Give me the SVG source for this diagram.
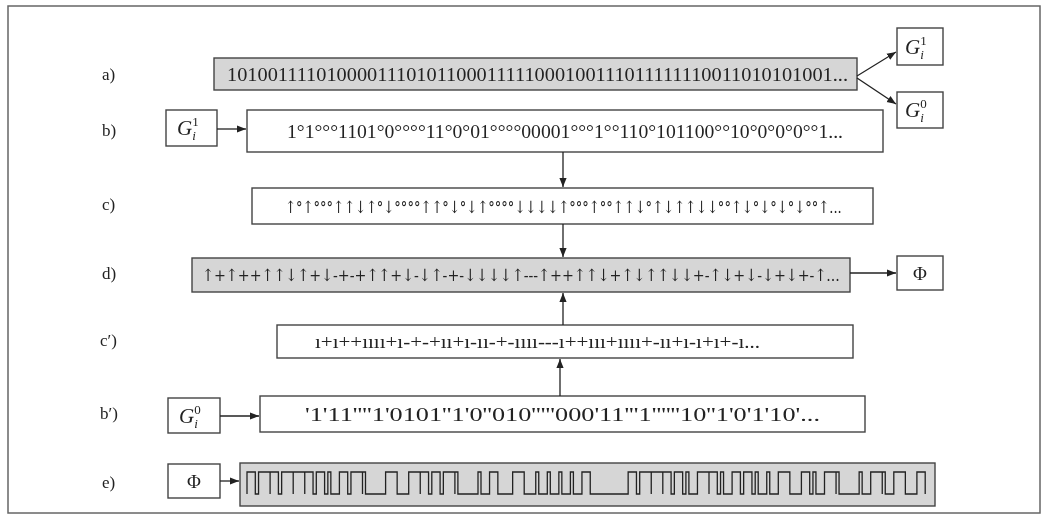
<svg xmlns="http://www.w3.org/2000/svg" width="1050" height="530" viewBox="0 0 1050 530">
<defs>
<marker id="ah" viewBox="0 0 10 10" refX="10" refY="5" markerWidth="9" markerHeight="9" markerUnits="userSpaceOnUse" orient="auto">
<path d="M0,1 L10,5 L0,9 z" fill="#222"/>
</marker>
<filter id="gs" x="0" y="0" width="1" height="1"><feColorMatrix type="saturate" values="0"/></filter>
<style>
.box{fill:#fff;stroke:#444;stroke-width:1.4}
.gbox{fill:#d6d6d6;stroke:#444;stroke-width:1.4}
.lab{font-family:"Liberation Serif",serif;font-size:17px;fill:#222}
.seq{font-family:"Liberation Serif",serif;font-size:18px;fill:#222}
.arr{font-family:"DejaVu Serif",serif;font-size:17px;fill:#222}
.mth{font-family:"Liberation Serif",serif;font-size:21px;fill:#222}
.phi{font-family:"Liberation Serif",serif;font-size:19px;fill:#222}
.con{stroke:#222;stroke-width:1.3;fill:none}
</style>
</defs>
<g filter="url(#gs)">
<rect x="0" y="0" width="1050" height="530" fill="#fff"/>
<rect x="8" y="6" width="1032" height="507" fill="none" stroke="#666" stroke-width="1.5"/>

<g id="labels">
<text class="lab" x="102" y="80">a)</text>
<text class="lab" x="102" y="136">b)</text>
<text class="lab" x="102" y="210">c)</text>
<text class="lab" x="102" y="279">d)</text>
<text class="lab" x="100" y="346">c′)</text>
<text class="lab" x="100" y="419">b′)</text>
<text class="lab" x="102" y="488">e)</text>
</g>

<g id="row-a">
<rect class="gbox" x="214" y="58" width="643" height="32"/>
<text class="seq" x="227" y="81" textLength="621" lengthAdjust="spacingAndGlyphs">1010011110100001110101100011111000100111011111110011010101001...</text>
</g>
<g id="G1-out">
<rect class="box" x="897" y="28" width="46" height="37"/>
<text class="mth" x="905" y="54"><tspan font-style="italic">G</tspan><tspan font-size="13" dy="-9">1</tspan><tspan font-size="13" font-style="italic" dx="-6.5" dy="14">i</tspan></text>
</g>
<g id="G0-out">
<rect class="box" x="897" y="92" width="46" height="36"/>
<text class="mth" x="905" y="117"><tspan font-style="italic">G</tspan><tspan font-size="13" dy="-9">0</tspan><tspan font-size="13" font-style="italic" dx="-6.5" dy="14">i</tspan></text>
</g>

<g id="G1-in">
<rect class="box" x="166" y="110" width="51" height="36"/>
<text class="mth" x="177" y="135"><tspan font-style="italic">G</tspan><tspan font-size="13" dy="-9">1</tspan><tspan font-size="13" font-style="italic" dx="-6.5" dy="14">i</tspan></text>
</g>
<g id="row-b">
<rect class="box" x="247" y="110" width="636" height="42"/>
<text class="seq" x="287" y="138" textLength="556" lengthAdjust="spacingAndGlyphs">1°1°°°1101°0°°°°11°0°01°°°°00001°°°1°°110°101100°°10°0°0°0°°1...</text>
</g>

<g id="row-c">
<rect class="box" x="252" y="188" width="621" height="36"/>
<text class="arr" transform="translate(285,213) scale(0.769,1)" textLength="724" lengthAdjust="spacingAndGlyphs">↑°↑°°°↑↑↓↑°↓°°°°↑↑°↓°↓↑°°°°↓↓↓↓↑°°°↑°°↑↑↓°↑↓↑↑↓↓°°↑↓°↓°↓°↓°°↑...</text>
</g>

<g id="row-d">
<rect class="gbox" x="192" y="258" width="658" height="34"/>
<text class="arr" transform="translate(202,281) scale(0.836,1)" textLength="763" lengthAdjust="spacingAndGlyphs">↑+↑++↑↑↓↑+↓-+-+↑↑+↓-↓↑-+-↓↓↓↓↑---↑++↑↑↓+↑↓↑↑↓↓+-↑↓+↓-↓+↓+-↑...</text>
</g>
<g id="Phi-out">
<rect class="box" x="897" y="256" width="46" height="34"/>
<text class="phi" x="920" y="280" text-anchor="middle">Φ</text>
</g>

<g id="row-c2">
<rect class="box" x="277" y="325" width="576" height="33"/>
<text class="seq" x="315" y="348" textLength="445" lengthAdjust="spacingAndGlyphs">ı+ı++ıııı+ı-+-+ıı+ı-ıı-+-ıııı---ı++ııı+ıııı+-ıı+ı-ı+ı+-ı...</text>
</g>

<g id="G0-in">
<rect class="box" x="168" y="398" width="52" height="35"/>
<text class="mth" x="179" y="423"><tspan font-style="italic">G</tspan><tspan font-size="13" dy="-9">0</tspan><tspan font-size="13" font-style="italic" dx="-6.5" dy="14">i</tspan></text>
</g>
<g id="row-b2">
<rect class="box" x="260" y="396" width="605" height="36"/>
<text class="seq" x="305" y="421" textLength="515" lengthAdjust="spacingAndGlyphs">'1'11''''1'0101''1'0''010'''''000'11'''1''''''10''1'0'1'10'...</text>
</g>

<g id="Phi-in">
<rect class="box" x="168" y="464" width="52" height="34"/>
<text class="phi" x="194" y="488" text-anchor="middle">Φ</text>
</g>
<g id="row-e">
<rect class="gbox" x="240" y="463" width="695" height="43"/>
<path class="con" stroke-width="1.6" d="M247 494 v-22h8.3v22h3.25 v-22h11.55v22 v-22h8.3v22h3.25 v-22h11.55v22 v-22h11.55v22 v-22h8.3v22h3.25 v-22h8.3v22h3.25 v-22h3v22h8.55 v-22h8.3v22h3.25 v-22h11.55v22 v-22h3v22h8.55 h11.55 v-22h11.55v22 h11.55 v-22h11.55v22 v-22h8.3v22h3.25 v-22h8.3v22h3.25 v-22h11.55v22 v-22h3v22h8.55 h11.55 v-22h3v22h8.55 v-22h8.3v22h3.25 h11.55 v-22h11.55v22 h11.55 v-22h3v22h8.55 v-22h3v22h8.55 v-22h3v22h8.55 v-22h3v22h8.55 v-22h8.3v22h3.25 h11.55 h11.55 h11.55 v-22h8.3v22h3.25 v-22h11.55v22 v-22h11.55v22 v-22h8.3v22h3.25 v-22h8.3v22h3.25 v-22h3v22h8.55 v-22h11.55v22 v-22h8.3v22h3.25 v-22h3v22h8.55 v-22h8.3v22h3.25 v-22h8.3v22h3.25 v-22h3v22h8.55 v-22h3v22h8.55 v-22h11.55v22 h11.55 v-22h8.3v22h3.25 v-22h3v22h8.55 v-22h11.55v22 v-22h3v22h8.55 h11.55 v-22h3v22h8.55 v-22h11.55v22 v-22h3v22h8.55 v-22h11.55v22 h11.55 v-22h8.3v22"/>
</g>

<g id="connectors">
<line class="con" x1="857" y1="76" x2="896" y2="52" marker-end="url(#ah)"/>
<line class="con" x1="857" y1="78" x2="896" y2="104" marker-end="url(#ah)"/>
<line class="con" x1="217" y1="129" x2="246" y2="129" marker-end="url(#ah)"/>
<line class="con" x1="563" y1="152" x2="563" y2="187" marker-end="url(#ah)"/>
<line class="con" x1="563" y1="224" x2="563" y2="257" marker-end="url(#ah)"/>
<line class="con" x1="850" y1="273" x2="896" y2="273" marker-end="url(#ah)"/>
<line class="con" x1="563" y1="325" x2="563" y2="293" marker-end="url(#ah)"/>
<line class="con" x1="560" y1="396" x2="560" y2="359" marker-end="url(#ah)"/>
<line class="con" x1="220" y1="416" x2="259" y2="416" marker-end="url(#ah)"/>
<line class="con" x1="220" y1="481" x2="239" y2="481" marker-end="url(#ah)"/>
</g>
</g>
</svg>
